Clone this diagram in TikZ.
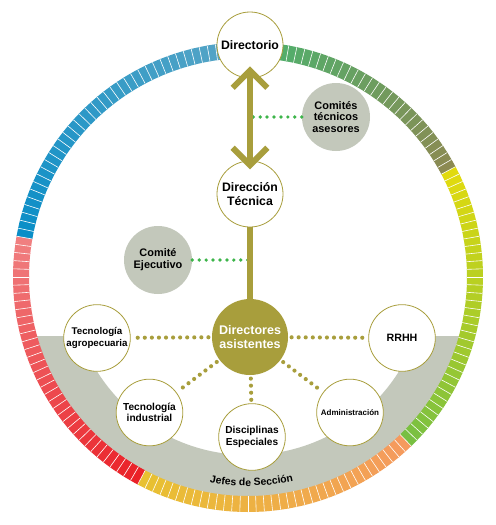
\documentclass[tikz,border=0pt]{standalone}
\usepackage{fontspec}
\setmainfont{Liberation Sans}
\usetikzlibrary{arrows.meta,decorations.text}

\definecolor{olivo}{HTML}{A89E3C}
\definecolor{grisbanda}{HTML}{C3C8BB}
\definecolor{verdepunto}{HTML}{3DB54A}
\definecolor{verdeA}{HTML}{4BB26E}
\definecolor{oliva}{HTML}{8C8A52}
\definecolor{amarillo}{HTML}{E1DA0E}
\definecolor{verdelima}{HTML}{78BF42}
\definecolor{naranja}{HTML}{F59A5E}
\definecolor{ocre}{HTML}{E8C131}
\definecolor{rojo}{HTML}{EA2128}
\definecolor{rosa}{HTML}{F07F80}
\definecolor{azul}{HTML}{0B8EC7}
\definecolor{celeste}{HTML}{5AA6C6}

% one coloured stretch of the ring: start angle, end angle, colour at start, colour at end
\newcommand{\tramo}[4]{%
  \pgfmathtruncatemacro\tramoini{#1}
  \pgfmathtruncatemacro\tramosig{#1+2}
  \pgfmathtruncatemacro\tramofin{#2-2}
  \foreach \a in {\tramoini,\tramosig,...,\tramofin}{%
    \pgfmathtruncatemacro\mezcla{100*(\a-(#1))/((#2)-(#1)-2)}
    \fill[#4!\mezcla!#3] (\a:219) arc[start angle=\a, end angle=\a+2.2, radius=219]
      -- (\a+2.2:235) arc[start angle=\a+2.2, end angle=\a, radius=235] -- cycle;
  }
}

\tikzset{
  unidad/.style={circle, draw=olivo, line width=0.6pt, fill=white, minimum size=49.5pt,
    inner sep=0pt, align=center, font=\bfseries\fontsize{9.2}{10}\selectfont},
  comite/.style={circle, fill=grisbanda, minimum size=51pt, inner sep=0pt, align=center,
    font=\bfseries\fontsize{8.2}{8.8}\selectfont},
  asistentes/.style={circle, fill=olivo, minimum size=57pt, inner sep=0pt, align=center,
    text=white, font=\bfseries\fontsize{9.4}{10}\selectfont},
  seccion/.style={circle, draw=olivo, line width=0.6pt, fill=white, minimum size=50pt,
    inner sep=0pt, align=center, font=\bfseries\fontsize{7.6}{8.7}\selectfont},
  flecha/.style={olivo, line width=4.4pt},
  puntosolivo/.style={olivo, line width=3.1pt, line cap=round, dash pattern=on 0pt off 5.3pt,
    shorten <=2.5pt, shorten >=2.5pt},
  puntosverdes/.style={verdepunto, line width=2.8pt, line cap=round, dash pattern=on 0pt off 5.2pt}
}

\begin{document}
\begin{tikzpicture}[x=0.75pt,y=-0.75pt]
\useasboundingbox (0,0) rectangle (496,525);
\fill[white] (0,0) rectangle (496,525);

% gray band of the section heads
\begin{scope}
\clip (0,336) rectangle (496,525);
\fill[grisbanda, even odd rule] (248,277) circle[radius=228] (248,277) circle[radius=178];
\end{scope}

% coloured ring
\begin{scope}[shift={(248,277)}]
\tramo{-90}{-28}{verdeA}{oliva}
\tramo{-28}{46}{amarillo}{verdelima}
\tramo{46}{118}{naranja}{ocre}
\tramo{118}{190}{rojo}{rosa}
\tramo{190}{270}{azul}{celeste}
\foreach \a in {-90,-88,...,268}
  \draw[white, line width=0.45pt] (\a:219) -- (\a:235);
\path[decorate, decoration={text along path, text align=center,
    text={|\bfseries\fontsize{7.8}{9}\selectfont|Jefes de Sección}}]
  (104:209) arc[start angle=104, end angle=74, radius=209];
\end{scope}

\node[unidad] (directorio) at (250,45) {Directorio};
\node[unidad] (dtec) at (250,194) {Dirección\\Técnica};
\node[comite] (comites) at (336,117) {Comités\\técnicos\\asesores};
\node[comite, font=\bfseries\fontsize{8.2}{9}\selectfont] (ejecutivo) at (158,260) {Comité\\Ejecutivo};
\node[asistentes] (dirasis) at (250,337) {Directores\\asistentes};
\node[seccion, font=\bfseries\fontsize{7.3}{8.4}\selectfont] (agro) at (97,338) {Tecnología\\agropecuaria};
\node[seccion, font=\bfseries\fontsize{8}{9}\selectfont] (rrhh) at (402,338) {RRHH};
\node[seccion] (industrial) at (149.5,412.5) {Tecnología\\industrial};
\node[seccion] (disciplinas) at (252,437) {Disciplinas\\Especiales};
\node[seccion, font=\bfseries\fontsize{6}{7}\selectfont] (admin) at (350,412.5) {Administración};

\draw[puntosverdes] (comites.west) -- (comites.west -| directorio.south);
\draw[puntosverdes] (ejecutivo.east) -- (ejecutivo.east -| dtec.south);
\draw[flecha] (dtec) -- (dirasis);
\draw[puntosolivo] (dirasis) -- (agro);
\draw[puntosolivo] (dirasis) -- (rrhh);
\draw[puntosolivo] (dirasis) -- (industrial);
\draw[puntosolivo] (dirasis) -- (disciplinas);
\draw[puntosolivo] (dirasis) -- (admin);
\draw[flecha, {Straight Barb[length=13pt,width=26pt]}-{Straight Barb[length=13pt,width=26pt]},
  shorten <=-9pt, shorten >=-6.5pt] (directorio) -- (dtec);
\end{tikzpicture}
\end{document}
